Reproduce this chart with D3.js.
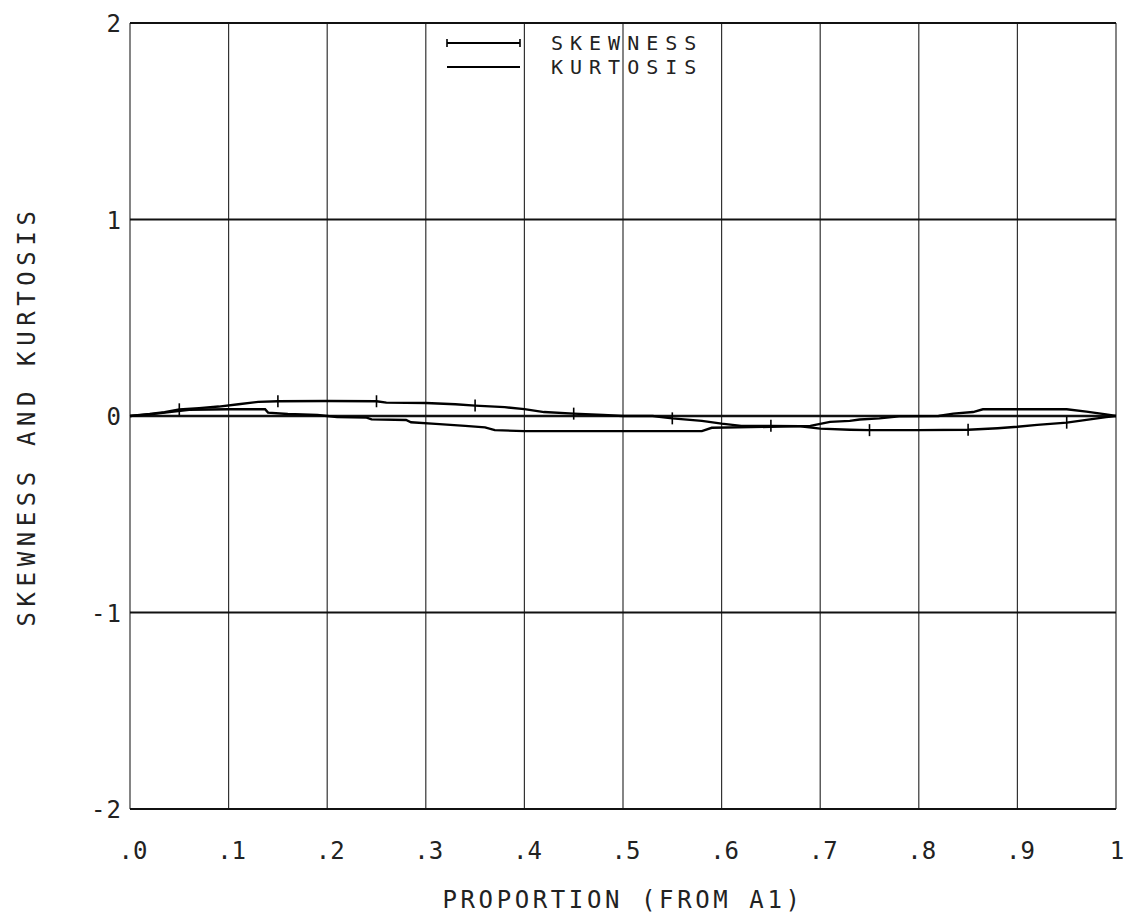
<!DOCTYPE html>
<html>
<head>
<meta charset="utf-8">
<script src="https://cdn.jsdelivr.net/npm/d3@7"></script>
<style>
  body { margin: 0; background: #fff; }
  text { font-family: "DejaVu Sans Mono", monospace; fill: #222; }
</style>
</head>
<body>
<div id="chart"></div>
<script>
// values
const skewP = [0, 0.02, 0.035, 0.05, 0.07, 0.09, 0.11, 0.13, 0.15, 0.20, 0.25, 0.26, 0.30, 0.33, 0.35,
               0.38, 0.40, 0.42, 0.45, 0.48, 0.50, 0.53, 0.55, 0.58, 0.60, 0.62, 0.65, 0.68, 0.70, 0.73,
               0.75, 0.80, 0.85, 0.88, 0.90, 0.92, 0.95, 0.97, 0.99, 1.0];
const skewV = [0, 0.01, 0.02, 0.034, 0.04, 0.048, 0.06, 0.072, 0.075, 0.076, 0.075, 0.068, 0.066, 0.06, 0.053,
               0.045, 0.035, 0.02, 0.012, 0.005, 0, 0, -0.012, -0.025, -0.039, -0.05, -0.05, -0.052, -0.064, -0.07,
               -0.072, -0.072, -0.07, -0.062, -0.055, -0.045, -0.034, -0.02, -0.006, 0];

const kurtP = [0, 0.02, 0.04, 0.06, 0.10, 0.137, 0.14, 0.16, 0.19, 0.21, 0.24, 0.245, 0.28, 0.285, 0.31,
               0.34, 0.36, 0.37, 0.40, 0.58, 0.59, 0.65, 0.69, 0.71, 0.73, 0.74, 0.76, 0.78, 0.82, 0.835,
               0.855, 0.865, 0.95, 0.97, 0.99, 1.0];
const kurtV = [0, 0.008, 0.02, 0.032, 0.034, 0.034, 0.017, 0.01, 0.005, -0.005, -0.008, -0.017, -0.02, -0.032, -0.04,
               -0.05, -0.058, -0.072, -0.077, -0.077, -0.06, -0.055, -0.05, -0.03, -0.025, -0.018, -0.012, -0.002, 0, 0.012,
               0.02, 0.034, 0.034, 0.022, 0.008, 0];

// plot symbols on the skewness curve
const markP = [0.05, 0.15, 0.25, 0.35, 0.45, 0.55, 0.65, 0.75, 0.85, 0.95];
const markV = [0.034, 0.075, 0.075, 0.053, 0.012, -0.012, -0.05, -0.072, -0.07, -0.034];

const xTicks = [0, 0.1, 0.2, 0.3, 0.4, 0.5, 0.6, 0.7, 0.8, 0.9, 1];
const xTickLabels = [".0", ".1", ".2", ".3", ".4", ".5", ".6", ".7", ".8", ".9", "1"];
const yTicks = [2, 1, 0, -1, -2];
const yTickLabels = ["2", "1", "0", "-1", "-2"];
const seriesNames = ["SKEWNESS", "KURTOSIS"];

const W = 1130, H = 918;
const margin = { top: 23, right: 14, bottom: 109, left: 130 };
const width = W - margin.left - margin.right;
const height = H - margin.top - margin.bottom;

const svg = d3.select("#chart").append("svg")
    .attr("width", W)
    .attr("height", H);

const g = svg.append("g")
    .attr("transform", `translate(${margin.left},${margin.top})`);

const x = d3.scaleLinear().domain([0, 1]).range([0, width]);
const y = d3.scaleLinear().domain([-2, 2]).range([height, 0]);

// vertical grid
g.selectAll(".vgrid")
    .data(xTicks)
    .enter().append("line")
    .attr("x1", d => x(d)).attr("x2", d => x(d))
    .attr("y1", 0).attr("y2", height)
    .attr("stroke", "#333")
    .attr("stroke-width", 1.2);

// horizontal grid (heavier)
g.selectAll(".hgrid")
    .data(yTicks)
    .enter().append("line")
    .attr("x1", 0).attr("x2", width)
    .attr("y1", d => y(d)).attr("y2", d => y(d))
    .attr("stroke", "#111")
    .attr("stroke-width", d => d === 0 ? 2.4 : 2);

// tick labels
g.selectAll(".xlab")
    .data(xTicks)
    .enter().append("text")
    .attr("x", (d, i) => x(d) + (i === 10 ? 1 : 3))
    .attr("y", height + 50)
    .attr("text-anchor", "middle")
    .style("font-size", "24px")
    .text((d, i) => xTickLabels[i]);

g.selectAll(".ylab")
    .data(yTicks)
    .enter().append("text")
    .attr("x", -8)
    .attr("y", d => y(d) + 9)
    .attr("text-anchor", "end")
    .style("font-size", "24px")
    .style("letter-spacing", "1px")
    .text((d, i) => yTickLabels[i]);

// curves
const skew = skewP.map((p, i) => [p, skewV[i]]);
const kurt = kurtP.map((p, i) => [p, kurtV[i]]);
const line = d3.line().x(d => x(d[0])).y(d => y(d[1]));

g.append("path")
    .datum(kurt)
    .attr("d", line)
    .attr("fill", "none")
    .attr("stroke", "#000")
    .attr("stroke-width", 2.4);

g.append("path")
    .datum(skew)
    .attr("d", line)
    .attr("fill", "none")
    .attr("stroke", "#000")
    .attr("stroke-width", 2.4);

g.selectAll(".mark")
    .data(markP)
    .enter().append("line")
    .attr("x1", d => x(d)).attr("x2", d => x(d))
    .attr("y1", (d, i) => y(markV[i]) - 6)
    .attr("y2", (d, i) => y(markV[i]) + 6)
    .attr("stroke", "#000")
    .attr("stroke-width", 1.6);

// legend
const leg = g.append("g").attr("transform", "translate(317,20)");
seriesNames.forEach((name, i) => {
    const ly = i * 24;
    leg.append("line")
        .attr("x1", 0).attr("x2", 73)
        .attr("y1", ly).attr("y2", ly)
        .attr("stroke", "#000")
        .attr("stroke-width", 2.2);
    if (i === 0) {
        [0, 73].forEach(mx => leg.append("line")
            .attr("x1", mx).attr("x2", mx)
            .attr("y1", ly - 4).attr("y2", ly + 4)
            .attr("stroke", "#000")
            .attr("stroke-width", 1.6));
    }
    leg.append("text")
        .attr("x", 104)
        .attr("y", ly + 7)
        .style("font-size", "20px")
        .style("letter-spacing", "7px")
        .text(name);
});

// axis titles
g.append("text")
    .attr("x", width / 2)
    .attr("y", height + 99)
    .attr("text-anchor", "middle")
    .style("font-size", "24px")
    .style("letter-spacing", "3.6px")
    .text("PROPORTION (FROM A1)");

g.append("text")
    .attr("transform", `translate(${-95},${y(0)}) rotate(-90)`)
    .attr("text-anchor", "middle")
    .style("font-size", "24px")
    .style("letter-spacing", "5.6px")
    .text("SKEWNESS AND KURTOSIS");
</script>
</body>
</html>
